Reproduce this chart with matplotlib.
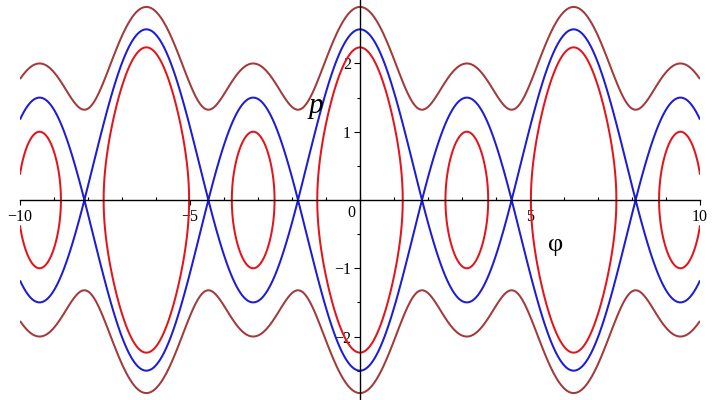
"""Phase portrait p(phi) for H = p^2 - 2 cos(phi) - 2 cos(2 phi), Maple-style axes."""

import matplotlib

matplotlib.use("Agg")
import matplotlib.pyplot as plt
import numpy as np
from matplotlib.ticker import FixedLocator, MultipleLocator

# potential coefficients: U(phi) = a1*cos(phi) + a2*cos(2*phi)
cos_coeffs = [-2.0, -2.0]
# energy levels of the drawn curves (inner, separatrix, outer)
energy_levels = [1.0, 2.25, 4.0]
level_colors = ["#E5141B", "#1C1CD8", "#A33A3A"]

x_range = [-10, 10]
y_range = [-2.93, 2.93]
x_ticks = [-10, -5, 5, 10]
x_tick_labels = ["\u221210", "\u22125", "5", "10"]
y_ticks = [-2, -1, 1, 2]
y_tick_labels = ["\u22122", "\u22121", "1", "2"]

SERIF = ["Liberation Serif", "DejaVu Serif"]

phi = np.linspace(x_range[0], x_range[1], 2400)
p = np.linspace(y_range[0], y_range[1], 1400)
PHI, P = np.meshgrid(phi, p)
H = P ** 2 + cos_coeffs[0] * np.cos(PHI) + cos_coeffs[1] * np.cos(2 * PHI)

fig = plt.figure(figsize=(7.14, 4.0), dpi=100)
ax = fig.add_axes([20 / 714, 0.0, 680 / 714, 1.0])
ax.contour(PHI, P, H, levels=energy_levels, colors=level_colors, linewidths=1.45)
ax.set_xlim(x_range)
ax.set_ylim(y_range)

for side in ("top", "right"):
    ax.spines[side].set_visible(False)
ax.spines["left"].set_position(("data", 0))
ax.spines["bottom"].set_position(("data", 0))
for side in ("left", "bottom"):
    ax.spines[side].set_linewidth(1.0)
    ax.spines[side].set_color("black")

# x axis: major ticks hang below the axis, minor ticks stand above it
ax.xaxis.set_major_locator(FixedLocator(x_ticks))
ax.set_xticklabels(x_tick_labels, fontfamily=SERIF, fontsize=11.5)
ax.xaxis.set_minor_locator(MultipleLocator(1))
ax.tick_params(axis="x", which="major", direction="out", length=3.5, width=0.8, pad=3)
ax.tick_params(axis="x", which="minor", direction="in", length=2.5, width=0.8)

ax.yaxis.set_major_locator(FixedLocator(y_ticks))
ax.set_yticklabels(y_tick_labels, fontfamily=SERIF, fontsize=11.5)
ax.yaxis.set_minor_locator(MultipleLocator(0.5))
ax.tick_params(axis="y", which="both", direction="out", pad=2)
ax.tick_params(axis="y", which="major", length=4.5, width=0.8)
ax.tick_params(axis="y", which="minor", length=2.5, width=0.8)

ax.text(-0.24, -0.19, "0", fontfamily=SERIF, fontsize=11.5, ha="center", va="center")
ax.text(-1.29, 1.38, "p", fontfamily=SERIF, fontstyle="italic", fontsize=21, ha="center", va="center")
ax.text(5.76, -0.66, "\u03c6", fontfamily=SERIF, fontsize=19, ha="center", va="center")

fig.savefig("out.png", dpi=100)
